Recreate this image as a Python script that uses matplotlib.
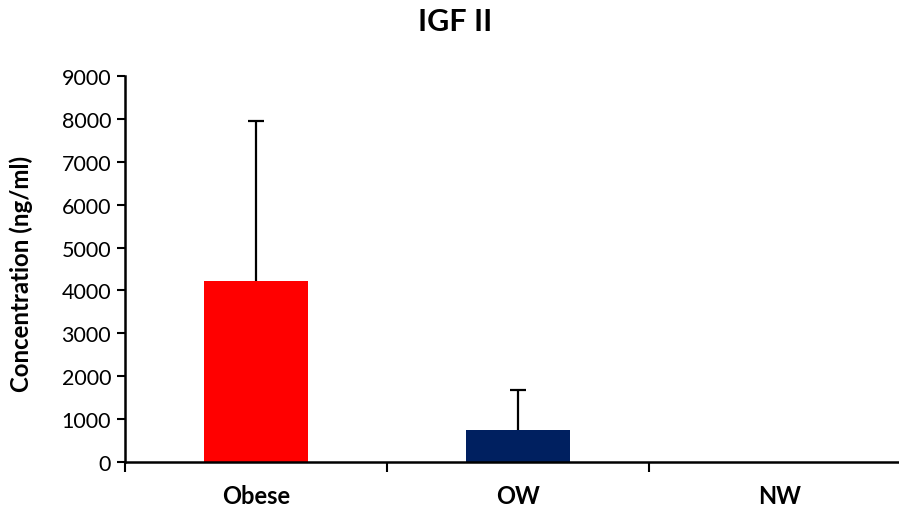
import matplotlib
matplotlib.use("Agg")
import matplotlib.pyplot as plt
import numpy as np

categories = ["Obese", "OW", "NW"]
values = [4220, 746, 0]
errors_upper = [3738, 940, 0]
colors = ["#FF0000", "#002060", "#002060"]
yticks = [0, 1000, 2000, 3000, 4000, 5000, 6000, 7000, 8000, 9000]

plt.rcParams['font.family'] = ['Lato', 'DejaVu Sans']

fig = plt.figure(figsize=(8.99, 5.10), dpi=100)
ax = fig.add_axes([125/899, 1-463/510, (911-125)/899, (463-77)/510])

x = np.arange(len(categories))
ax.bar(x, values, width=0.4, color=colors, zorder=2)
for xi, v, e in zip(x, values, errors_upper):
    if e > 0:
        cont = ax.errorbar(xi, v, yerr=[[0], [e]], fmt='none', ecolor='black',
                           elinewidth=1.6, capsize=6, capthick=1.6, zorder=3)
        caps = cont.lines[1]
        if len(caps) > 1:
            caps[0].set_visible(False)

ax.set_xlim(-0.5, len(categories) - 0.5)
ax.set_ylim(0, 9000)
ax.set_yticks(yticks)
ax.set_yticklabels([str(t) for t in yticks], fontsize=15.5)
ax.set_xticks(x)
ax.set_xticklabels(categories, fontsize=17, fontweight='bold')
ax.set_xticks(np.arange(-0.5, len(categories), 1.0), minor=True)
ax.tick_params(axis='x', which='major', length=0, pad=16)
ax.tick_params(axis='x', which='minor', length=7, width=1.5, direction='out')
ax.tick_params(axis='y', length=6, width=1.5, direction='out', pad=4)

for s in ['top', 'right']:
    ax.spines[s].set_visible(False)
for s in ['left', 'bottom']:
    ax.spines[s].set_linewidth(1.8)

ax.set_ylabel("Concentration (ng/ml)", fontsize=17.3, fontweight='bold')
ax.yaxis.set_label_coords((33 - 125) / 786, 0.49)
fig.text(455/899, 1-22/510, "IGF II", ha='center', va='center', fontsize=22, fontweight='bold')

fig.savefig("out.png", dpi=100)
